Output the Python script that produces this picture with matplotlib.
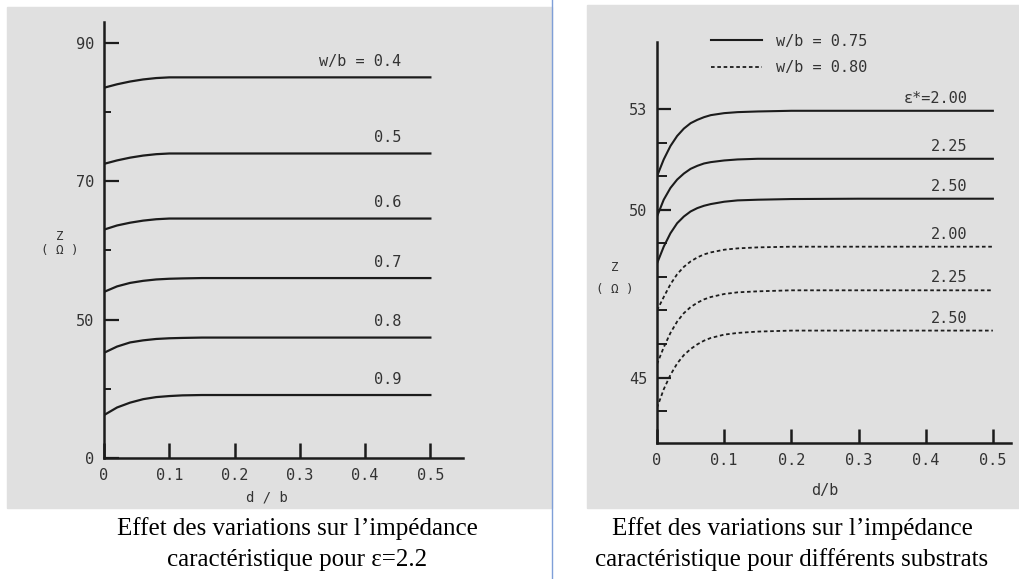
import matplotlib
matplotlib.use("Agg")
import matplotlib.pyplot as plt
from matplotlib.patches import Rectangle
from matplotlib.lines import Line2D

# ---- left chart: Z vs d/b for several w/b (eps = 2.2) ----
# the original axis is broken: the bottom tick labelled "0" sits where 30 would be
x_left = [0, 0.02, 0.04, 0.06, 0.08, 0.10, 0.12, 0.15, 0.20, 0.30, 0.40, 0.50]
wb_labels = ["w/b = 0.4", "0.5", "0.6", "0.7", "0.8", "0.9"]
z_wb04 = [83.5, 84.0, 84.4, 84.7, 84.9, 85.0, 85.0, 85.0, 85.0, 85.0, 85.0, 85.0]
z_wb05 = [72.5, 73.0, 73.4, 73.7, 73.9, 74.0, 74.0, 74.0, 74.0, 74.0, 74.0, 74.0]
z_wb06 = [63.0, 63.6, 64.0, 64.3, 64.5, 64.6, 64.6, 64.6, 64.6, 64.6, 64.6, 64.6]
z_wb07 = [54.0, 54.8, 55.3, 55.6, 55.8, 55.9, 55.95, 56.0, 56.0, 56.0, 56.0, 56.0]
z_wb08 = [45.2, 46.1, 46.7, 47.0, 47.2, 47.3, 47.35, 47.4, 47.4, 47.4, 47.4, 47.4]
z_wb09 = [36.2, 37.3, 38.0, 38.5, 38.8, 38.95, 39.05, 39.1, 39.1, 39.1, 39.1, 39.1]
left_series = [z_wb04, z_wb05, z_wb06, z_wb07, z_wb08, z_wb09]
left_yticks = [30, 50, 70, 90]
left_yticklabels = ["0", "50", "70", "90"]

# ---- right chart: Z vs d/b for several substrates ----
x_right = [0, 0.01, 0.02, 0.03, 0.04, 0.05, 0.06, 0.07, 0.08, 0.10, 0.12, 0.15,
           0.20, 0.30, 0.40, 0.50]
eps_labels = ["ε*=2.00", "2.25", "2.50", "2.00", "2.25", "2.50"]
z075_e200 = [51.0, 51.5, 51.9, 52.2, 52.42, 52.58, 52.68, 52.76, 52.82, 52.88, 52.91,
             52.93, 52.95, 52.95, 52.95, 52.95]
z075_e225 = [49.8, 50.3, 50.65, 50.9, 51.08, 51.22, 51.31, 51.38, 51.42, 51.47, 51.5,
             51.52, 51.52, 51.52, 51.52, 51.52]
z075_e250 = [48.4, 48.9, 49.3, 49.6, 49.8, 49.95, 50.05, 50.12, 50.17, 50.24, 50.28,
             50.3, 50.32, 50.33, 50.33, 50.33]
z080_e200 = [47.0, 47.4, 47.78, 48.08, 48.3, 48.46, 48.58, 48.67, 48.73, 48.81, 48.85,
             48.88, 48.9, 48.9, 48.9, 48.9]
z080_e225 = [45.4, 45.9, 46.33, 46.67, 46.92, 47.1, 47.23, 47.33, 47.4, 47.49, 47.54,
             47.57, 47.6, 47.6, 47.6, 47.6]
z080_e250 = [44.1, 44.65, 45.08, 45.42, 45.67, 45.85, 45.99, 46.1, 46.18, 46.28, 46.33,
             46.37, 46.4, 46.4, 46.4, 46.4]
solid_series = [z075_e200, z075_e225, z075_e250]
dashed_series = [z080_e200, z080_e225, z080_e250]
right_yticks = [45, 50, 53]

caption_left = "Effet des variations sur l\u2019impédance\ncaractéristique pour ε=2.2"
caption_right = "Effet des variations sur l\u2019impédance\ncaractéristique pour différents substrats"

mono = "DejaVu Sans Mono"
ink = "#1c1c1c"
txt = "#333333"
gray = "#e0e0e0"

fig = plt.figure(figsize=(10.2, 5.79), dpi=100)
W, H = 1020, 579


def box(x0, y0, x1, y1):
    # pixel box (top-left origin) -> figure fraction rect
    return [x0 / W, 1 - y1 / H, (x1 - x0) / W, (y1 - y0) / H]


r = box(7, 7, 552, 508)
fig.patches.append(Rectangle((r[0], r[1]), r[2], r[3], transform=fig.transFigure,
                             color=gray, zorder=-2))
r = box(587, 5, 1020, 508)
fig.patches.append(Rectangle((r[0], r[1]), r[2], r[3], transform=fig.transFigure,
                             color=gray, zorder=-2))
fig.add_artist(Line2D([552 / W, 552 / W], [0, 1], transform=fig.transFigure,
                      color="#7f9fd8", lw=1, zorder=-1))


def style_axes(ax, xmax, tick_len, minor_len):
    ax.set_facecolor("none")
    ax.set_zorder(2)
    for s in ["top", "right"]:
        ax.spines[s].set_visible(False)
    for s in ["left", "bottom"]:
        ax.spines[s].set_linewidth(1.8)
        ax.spines[s].set_color(ink)
    ax.set_xlim(0, xmax)
    ax.set_xticks([0, 0.1, 0.2, 0.3, 0.4, 0.5])
    ax.set_xticklabels(["0", "0.1", "0.2", "0.3", "0.4", "0.5"])
    ax.tick_params(axis="x", direction="in", length=tick_len, width=1.8,
                   color=ink, pad=7, labelsize=11, labelcolor=txt)
    ax.tick_params(axis="y", which="major", direction="in", length=tick_len,
                   width=1.6, color=ink, pad=7, labelsize=11, labelcolor=txt)
    ax.tick_params(axis="y", which="minor", direction="in", length=minor_len,
                   width=1.4, color=ink)
    for lab in ax.get_xticklabels() + ax.get_yticklabels():
        lab.set_family(mono)


# left chart
axl = fig.add_axes(box(104, 22, 463, 458))
for z in left_series:
    axl.plot(x_left, z, color=ink, lw=1.6)
for z, lab in zip(left_series, wb_labels):
    axl.text(0.455, z[-1] + 2.3, lab, ha="right", va="center",
             family=mono, fontsize=11, color=txt)
axl.set_ylim(30, 93)
axl.set_yticks(left_yticks)
axl.set_yticklabels(left_yticklabels)
axl.set_yticks([40, 60, 80], minor=True)
style_axes(axl, 0.55, 11, 5)
axl.set_ylabel("Z\n( Ω )", rotation=0, family=mono, fontsize=9, color=txt,
               va="center", ha="center", linespacing=1.1)
axl.yaxis.set_label_coords(-0.123, 0.493)
axl.set_xlabel("d / b", family=mono, fontsize=10, color=txt)
axl.xaxis.set_label_coords(0.454, -0.075)

# right chart
axr = fig.add_axes(box(657, 42, 1011, 443))
h_solid = h_dash = None
for z in solid_series:
    h_solid, = axr.plot(x_right, z, color=ink, lw=1.5)
for z in dashed_series:
    h_dash, = axr.plot(x_right, z, color=ink, lw=1.3, ls=(0, (2.0, 1.5)))
for z, lab in zip(solid_series + dashed_series, eps_labels):
    axr.text(0.462, z[-1] + 0.37, lab, ha="right", va="center",
             family=mono, fontsize=11, color=txt)
axr.set_ylim(43.05, 55)
axr.set_yticks(right_yticks)
axr.set_yticks([44, 46, 47, 48, 49, 51, 52], minor=True)
style_axes(axr, 0.527, 10, 7)
leg = axr.legend([h_solid, h_dash], ["w/b = 0.75", "w/b = 0.80"],
                 loc="upper left", bbox_to_anchor=(0.115, 1.055), frameon=False,
                 handlelength=3.3, handletextpad=0.9, labelspacing=0.75,
                 prop={"family": mono, "size": 11})
for t in leg.get_texts():
    t.set_color(txt)
axr.set_ylabel("Z\n( Ω )", rotation=0, family=mono, fontsize=9, color=txt,
               va="center", ha="center", linespacing=1.9)
axr.yaxis.set_label_coords(-0.119, 0.41)
axr.set_xlabel("d/b", family=mono, fontsize=11, color=txt)
axr.xaxis.set_label_coords(0.475, -0.1)

# captions
fig.text(297 / W, 1 - 544 / H, caption_left, ha="center", va="center",
         family="Liberation Serif", fontsize=18, linespacing=1.5, color="black")
fig.text(792 / W, 1 - 544 / H, caption_right, ha="center", va="center",
         family="Liberation Serif", fontsize=18, linespacing=1.5, color="black")

fig.savefig("out.png", dpi=100)
